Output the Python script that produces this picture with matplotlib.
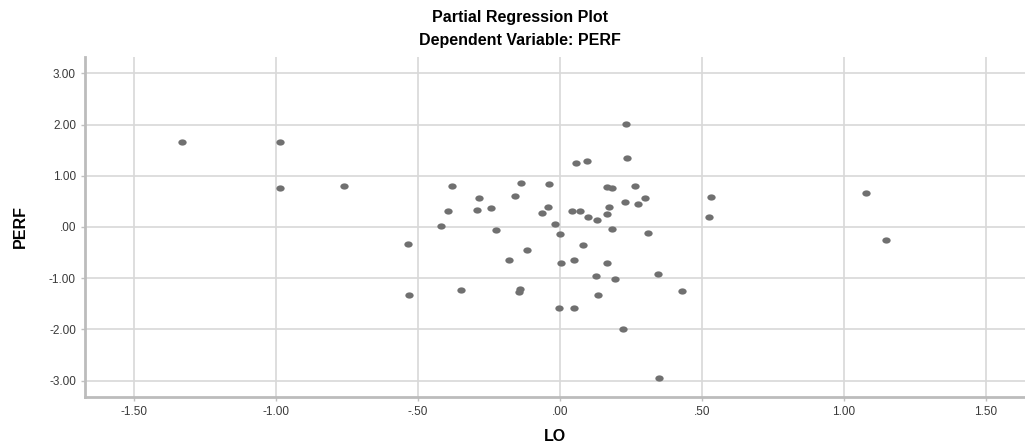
import matplotlib
matplotlib.use("Agg")
import matplotlib.pyplot as plt
from matplotlib.path import Path
from matplotlib.transforms import Affine2D

# partial regression residuals
lo = [-1.332, -0.986, -0.986, -0.761, 0.531, 0.526, 1.076, 1.147,
      0.231, 0.234, 0.055, 0.094, -0.379, -0.137, -0.040, 0.164,
      0.184, 0.262, -0.284, -0.158, 0.229, 0.299, 0.276, -0.394,
      -0.291, -0.242, -0.065, -0.042, 0.041, 0.070, 0.171, 0.164,
      0.097, 0.129, -0.421, -0.225, -0.018, -0.002, 0.182, 0.309,
      -0.534, -0.116, 0.079, -0.181, 0.004, 0.050, 0.164, 0.128,
      0.195, 0.345, -0.533, -0.350, -0.141, -0.146, 0.134, 0.430,
      -0.004, 0.049, 0.223, 0.347]
perf = [1.666, 1.666, 0.756, 0.807, 0.586, 0.195, 0.664, -0.254,
        2.010, 1.348, 1.244, 1.295, 0.807, 0.853, 0.834, 0.788,
        0.755, 0.794, 0.560, 0.612, 0.495, 0.573, 0.443, 0.319,
        0.339, 0.371, 0.273, 0.391, 0.319, 0.319, 0.397, 0.247,
        0.195, 0.137, 0.013, -0.052, 0.052, -0.143, -0.039, -0.117,
        -0.325, -0.443, -0.345, -0.651, -0.710, -0.645, -0.697, -0.963,
        -1.022, -0.924, -1.335, -1.237, -1.205, -1.276, -1.335, -1.244,
        -1.576, -1.588, -1.992, -2.943]

x_ticks = [-1.5, -1.0, -0.5, 0.0, 0.5, 1.0, 1.5]
x_labels = ["-1.50", "-1.00", "-.50", ".00", ".50", "1.00", "1.50"]
y_ticks = [-3, -2, -1, 0, 1, 2, 3]
y_labels = ["-3.00", "-2.00", "-1.00", ".00", "1.00", "2.00", "3.00"]

plt.rcParams['font.family'] = ['Liberation Sans', 'DejaVu Sans']

fig = plt.figure(figsize=(10.25, 4.44), dpi=100)
ax = fig.add_axes([0.0829, 0.1059, 0.9171, 0.7658])

# dots in the original are slightly wider than tall
dot = Path.unit_circle().transformed(Affine2D().scale(1.0, 0.75))
ax.scatter(lo, perf, marker=dot, s=36, color='#707070', linewidths=0, zorder=3)

ax.set_xlim(-1.673, 1.637)
ax.set_ylim(-3.32, 3.32)
ax.set_xticks(x_ticks)
ax.set_xticklabels(x_labels)
ax.set_yticks(y_ticks)
ax.set_yticklabels(y_labels)
ax.tick_params(labelsize=8.5, labelcolor='#3a3a3a', color='#c0c0c0', length=3, width=1)

ax.grid(True, color='#d8d8d8', linewidth=1.2)
ax.set_axisbelow(True)
for side in ['top', 'right']:
    ax.spines[side].set_visible(False)
for side in ['left', 'bottom']:
    ax.spines[side].set_color('#bcbcbc')
    ax.spines[side].set_linewidth(2)

ax.set_xlabel('LO', fontsize=11.5, fontweight='bold', labelpad=8)
ax.set_ylabel('PERF', fontsize=11.5, fontweight='bold', labelpad=15)

fig.text(0.507, 0.960, 'Partial Regression Plot', ha='center', va='center',
         fontsize=11.5, fontweight='bold')
fig.text(0.507, 0.908, 'Dependent Variable: PERF', ha='center', va='center',
         fontsize=11.5, fontweight='bold')

fig.savefig('out.png', dpi=100)
